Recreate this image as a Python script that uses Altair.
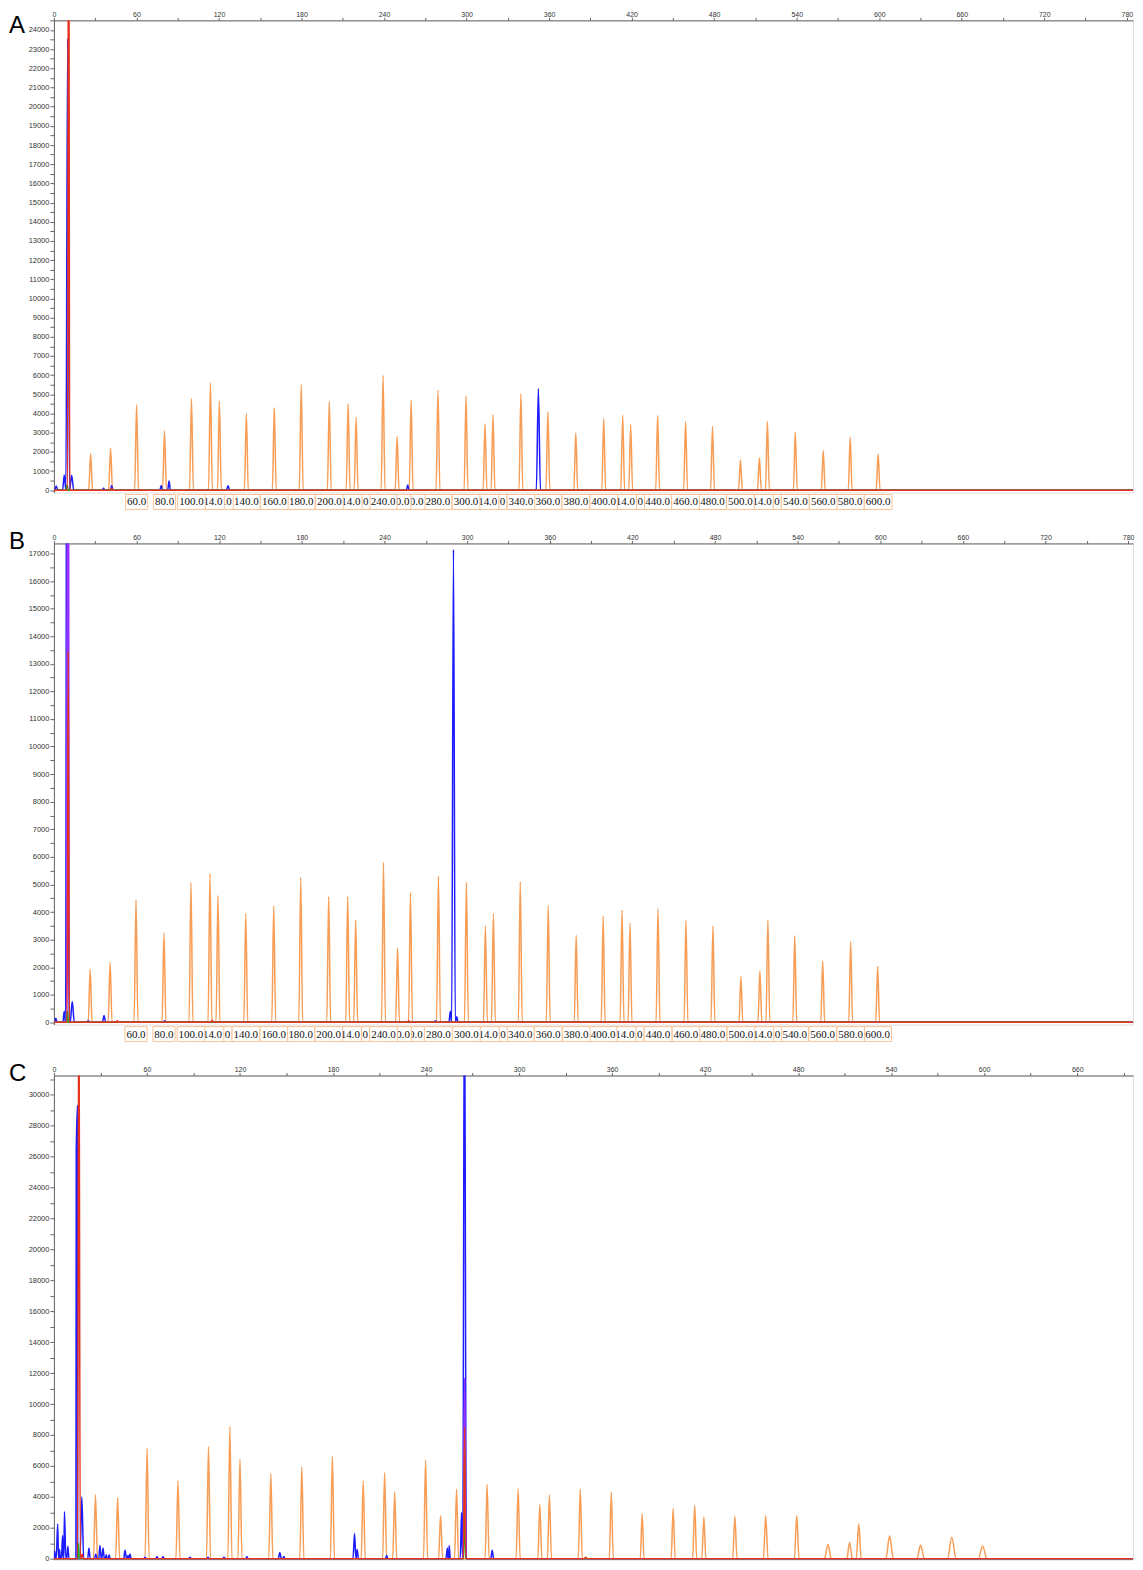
import altair as alt
import pandas as pd

# ---------------- data ----------------
panel_letters = ["A", "B", "C"]

size_labels = [60, 80, 100, 114, 120, 140, 160, 180, 200, 214, 220, 240, 250, 260,
               280, 300, 314, 320, 340, 360, 380, 400, 414, 420, 440, 460, 480, 500,
               514, 520, 540, 560, 580, 600]

# Panel A
A_orange_x = [26.7, 41.2, 60.1, 80.4, 100.0, 113.8, 120.3, 139.9, 160.2, 179.8, 200.2, 213.9,
              219.7, 239.3, 249.5, 259.7, 279.2, 299.6, 313.4, 319.2, 339.5, 359.1, 379.4,
              399.7, 413.5, 419.3, 438.9, 459.2, 478.8, 499.1, 512.9, 518.7, 539.0, 559.3,
              578.9, 599.2]
A_orange_h = [1900, 2190, 4460, 3090, 4780, 5600, 4650, 4000, 4310, 5510, 4620, 4520, 3810,
              5990, 2800, 4720, 5230, 4930, 3470, 3940, 5030, 4100, 2990, 3730, 3910, 3430,
              3890, 3580, 3340, 1580, 1690, 3590, 3040, 2070, 2760, 1900]
A_orange_w = [1.4] * len(A_orange_x)
A_blue_x = [1.7, 7.5, 10.0, 12.9, 36.1, 42.0, 78.0, 83.7, 126.6, 257.2, 352.2]
A_blue_h = [220, 800, 23550, 780, 100, 250, 250, 480, 230, 270, 5300]
A_blue_w = [1.2, 1.2, 1.3, 1.5, 1.0, 1.0, 1.0, 1.0, 1.2, 1.0, 1.5]
A_red_x = [10.7, 42.0]
A_red_h = [40000, 120]
A_red_w = [0.8, 1.0]
A_green_x = [9.6]
A_green_h = [300]
A_green_w = [0.8]

# Panel B
B_orange_x = [26.3, 40.8, 59.6, 79.9, 99.5, 113.3, 119.1, 139.3, 159.6, 179.2, 199.5, 213.3,
              219.1, 239.3, 249.5, 258.9, 279.2, 299.5, 313.3, 319.1, 338.6, 358.9, 379.2,
              398.8, 412.5, 418.3, 438.6, 458.9, 478.5, 498.8, 512.6, 518.4, 537.9, 558.2,
              578.5, 598.1]
B_orange_h = [1930, 2170, 4450, 3250, 5060, 5400, 4600, 3950, 4220, 5250, 4560, 4560, 3720,
              5800, 2700, 4700, 5300, 5080, 3500, 3950, 5100, 4230, 3170, 3850, 4080, 3600,
              4120, 3700, 3500, 1650, 1860, 3720, 3150, 2230, 2930, 2030]
B_orange_w = [1.4] * len(B_orange_x)
B_blue_x = [1.4, 7.5, 9.6, 13.3, 24.9, 36.4, 80.4, 277.0, 287.8, 290.1, 292.5]
B_blue_h = [150, 400, 40000, 760, 60, 250, 60, 60, 400, 17150, 200]
B_blue_w = [1.0, 1.0, 1.2, 1.5, 1.0, 1.2, 1.0, 1.0, 1.0, 1.3, 1.0]
B_purple_x = [10.2]
B_purple_h = [40000]
B_purple_w = [1.0]
B_red_x = [10.4, 46.0, 115.0, 257.6]
B_red_h = [13450, 60, 80, 60]
B_red_w = [0.8, 1.0, 1.0, 1.0]
B_green_x = [9.9]
B_green_h = [400]
B_green_w = [0.6]

# Panel C
C_orange_x = [26.8, 41.1, 60.1, 80.0, 99.7, 113.5, 120.0, 139.9, 159.9, 179.6, 199.5, 213.3,
              219.8, 239.7, 249.4, 259.7, 279.4, 299.4, 313.4, 319.6, 339.5, 359.5, 379.4,
              399.4, 413.3, 419.2, 439.2, 459.1, 479.1, 499.2, 513.2, 519.1, 539.0, 559.0,
              579.1, 599.0]
C_orange_h = [4130, 3940, 7140, 5020, 7250, 8550, 6440, 5510, 5950, 6630, 5020, 5570, 4320,
              6380, 2800, 4500, 4800, 4530, 3500, 4130, 4500, 4300, 2900, 3250, 3450, 2700,
              2750, 2780, 2780, 920, 1050, 2250, 1480, 880, 1380, 820]
C_orange_w = [1.3] * 22 + [1.2, 1.3, 1.3, 1.3, 1.4, 1.5, 1.5, 2.2, 1.8, 1.6, 2.4, 2.4,
                           2.8, 2.8]
C_blue_x = [0.5, 2.4, 3.6, 5.6, 6.8, 9.0, 14.4, 15.2, 18.0, 22.6, 27.0, 29.7, 31.7, 33.7,
            35.6, 45.9, 47.8, 49.1, 58.8, 66.5, 70.4, 87.8, 99.4, 109.7, 124.5, 145.7,
            148.3, 193.9, 195.6, 214.6, 253.8, 254.9, 262.9, 264.8, 282.7]
C_blue_h = [500, 2250, 600, 1500, 3050, 800, 26400, 29300, 4000, 700, 300, 850, 700, 250,
            250, 550, 200, 300, 100, 120, 120, 100, 100, 100, 120, 400, 150, 1630, 600, 200,
            700, 850, 3000, 40000, 550]
C_blue_w = [0.5, 0.9, 0.6, 0.8, 0.9, 0.7, 0.9, 1.0, 1.2, 0.8, 0.8, 0.8, 0.8, 0.7, 0.7, 0.9,
            0.7, 0.7, 0.8, 0.8, 0.8, 0.8, 0.8, 0.8, 0.8, 1.0, 0.8, 1.0, 0.8, 0.8, 1.0, 0.8,
            0.8, 1.2, 0.9]
C_purple_x = [264.9]
C_purple_h = [11700]
C_purple_w = [1.0]
C_red_x = [16.1, 18.2, 264.9, 343.0]
C_red_h = [40000, 300, 8500, 100]
C_red_w = [0.9, 0.8, 0.8, 1.0]
C_green_x = [15.8, 264.9]
C_green_h = [1000, 7000]
C_green_w = [0.5, 0.5]

# ---------------- helpers ----------------
W = 1081
COLORS = {"orange": "#f89d55", "blue": "#1c1cff", "purple": "#9b30ff",
          "green": "#1fa51f", "red": "#e8321e"}


def trace(xs, hs, ws, xmax):
    pts = [(0.0, 0.0), (float(xmax), 0.0)]
    for x, h, w in zip(xs, hs, ws):
        pts += [(x - w, 0.0), (x, float(h)), (x + w, 0.0)]
    pts.sort()
    return pd.DataFrame(pts, columns=["x", "y"])


def panel(letter, letter_y, xmax, xlab_max, ydom, H, ystep, ylab_every, series, labeled_x=None):
    xscale = alt.Scale(domain=[0, xmax], nice=False, zero=False)
    yscale = alt.Scale(domain=ydom, nice=False, zero=False)
    xaxis = alt.Axis(orient="top", title=None, values=list(range(0, xlab_max + 1, 30)),
                     labelExpr="datum.value % 60 == 0 ? datum.label : ''", format="d",
                     labelFontSize=7, labelColor="#333", labelFont="Liberation Sans",
                     tickSize=3, labelPadding=0, domainColor="#666", tickColor="#666",
                     grid=False, labelFlush=False, labelOverlap=False)
    yaxis = alt.Axis(orient="left", title=None,
                     values=list(range(0, int(ydom[1]) + 1, ystep)),
                     labelExpr=f"datum.value % {ylab_every} == 0 ? datum.label : ''",
                     format="d", labelFontSize=7.5, labelColor="#333",
                     labelFont="Liberation Sans", tickSize=4, labelPadding=1,
                     domainColor="#666", tickColor="#666", grid=False,
                     labelOverlap=False)
    layers = []
    for name, df in series:
        layers.append(
            alt.Chart(df).mark_line(color=COLORS[name], strokeWidth=1.5, clip=True,
                                    interpolate="monotone")
            .encode(x=alt.X("x:Q", scale=xscale, axis=xaxis),
                    y=alt.Y("y:Q", scale=yscale, axis=yaxis))
        )
    if labeled_x is not None:
        lab = pd.DataFrame({"k": list(range(len(size_labels))), "pos": labeled_x,
                            "txt": [f"{s}.0" for s in size_labels]})
        upx = xmax / W
        hw = f"((length(datum.txt)-1)*5.5+5.75)/2*{upx}"
        base = alt.Chart(lab).transform_calculate(lo=f"datum.pos - {hw}",
                                                  hi=f"datum.pos + {hw}")
        for k in reversed(range(len(size_labels))):
            b = base.transform_filter(alt.datum.k == k)
            layers.append(
                b.mark_rect(fill="white", stroke="#fbc496", strokeWidth=1)
                .encode(x=alt.X("lo:Q", scale=xscale, axis=xaxis), x2="hi:Q",
                        y=alt.value(H + 2), y2=alt.value(H + 17))
            )
            layers.append(
                b.mark_text(font="Liberation Serif", fontSize=11, color="#111",
                            align="center", baseline="middle")
                .encode(x=alt.X("pos:Q", scale=xscale, axis=xaxis),
                        y=alt.value(H + 10), text="txt:N")
            )
    layers.append(
        alt.Chart(pd.DataFrame({"t": [letter]}))
        .mark_text(font="Liberation Sans", fontSize=24, color="black", align="left",
                   baseline="alphabetic")
        .encode(x=alt.value(-45), y=alt.value(letter_y), text="t:N")
    )
    return alt.layer(*layers).properties(width=W, height=H)


def series_for(xmax, groups):
    return [(name, trace(xs, hs, ws, xmax)) for name, xs, hs, ws in groups]


A_xmax, B_xmax, C_xmax = 784.5, 783.5, 696

pA = panel(panel_letters[0], 13, A_xmax, 780, [-120, 24500], 473, 500, 1000,
           series_for(A_xmax, [("orange", A_orange_x, A_orange_h, A_orange_w),
                               ("blue", A_blue_x, A_blue_h, A_blue_w),
                               ("green", A_green_x, A_green_h, A_green_w),
                               ("red", A_red_x, A_red_h, A_red_w)]),
           labeled_x=A_orange_x[2:])

pB = panel(panel_letters[1], 6, B_xmax, 780, [-80, 17365], 482, 500, 1000,
           series_for(B_xmax, [("orange", B_orange_x, B_orange_h, B_orange_w),
                               ("blue", B_blue_x, B_blue_h, B_blue_w),
                               ("purple", B_purple_x, B_purple_h, B_purple_w),
                               ("green", B_green_x, B_green_h, B_green_w),
                               ("red", B_red_x, B_red_h, B_red_w)]),
           labeled_x=B_orange_x[2:])

pC = panel(panel_letters[2], 6, C_xmax, 690, [-60, 31250], 485, 1000, 2000,
           series_for(C_xmax, [("orange", C_orange_x, C_orange_h, C_orange_w),
                               ("blue", C_blue_x, C_blue_h, C_blue_w),
                               ("purple", C_purple_x, C_purple_h, C_purple_w),
                               ("green", C_green_x, C_green_h, C_green_w),
                               ("red", C_red_x, C_red_h, C_red_w)]))

chart = (
    alt.vconcat(pA, pB, pC, spacing=51, bounds="flush")
    .properties(padding=0)
    .configure_view(stroke="#aaaaaa", strokeWidth=1)
    .configure(background="white")
)

chart.save("out.html", embed_options={"renderer": "svg", "actions": False})
